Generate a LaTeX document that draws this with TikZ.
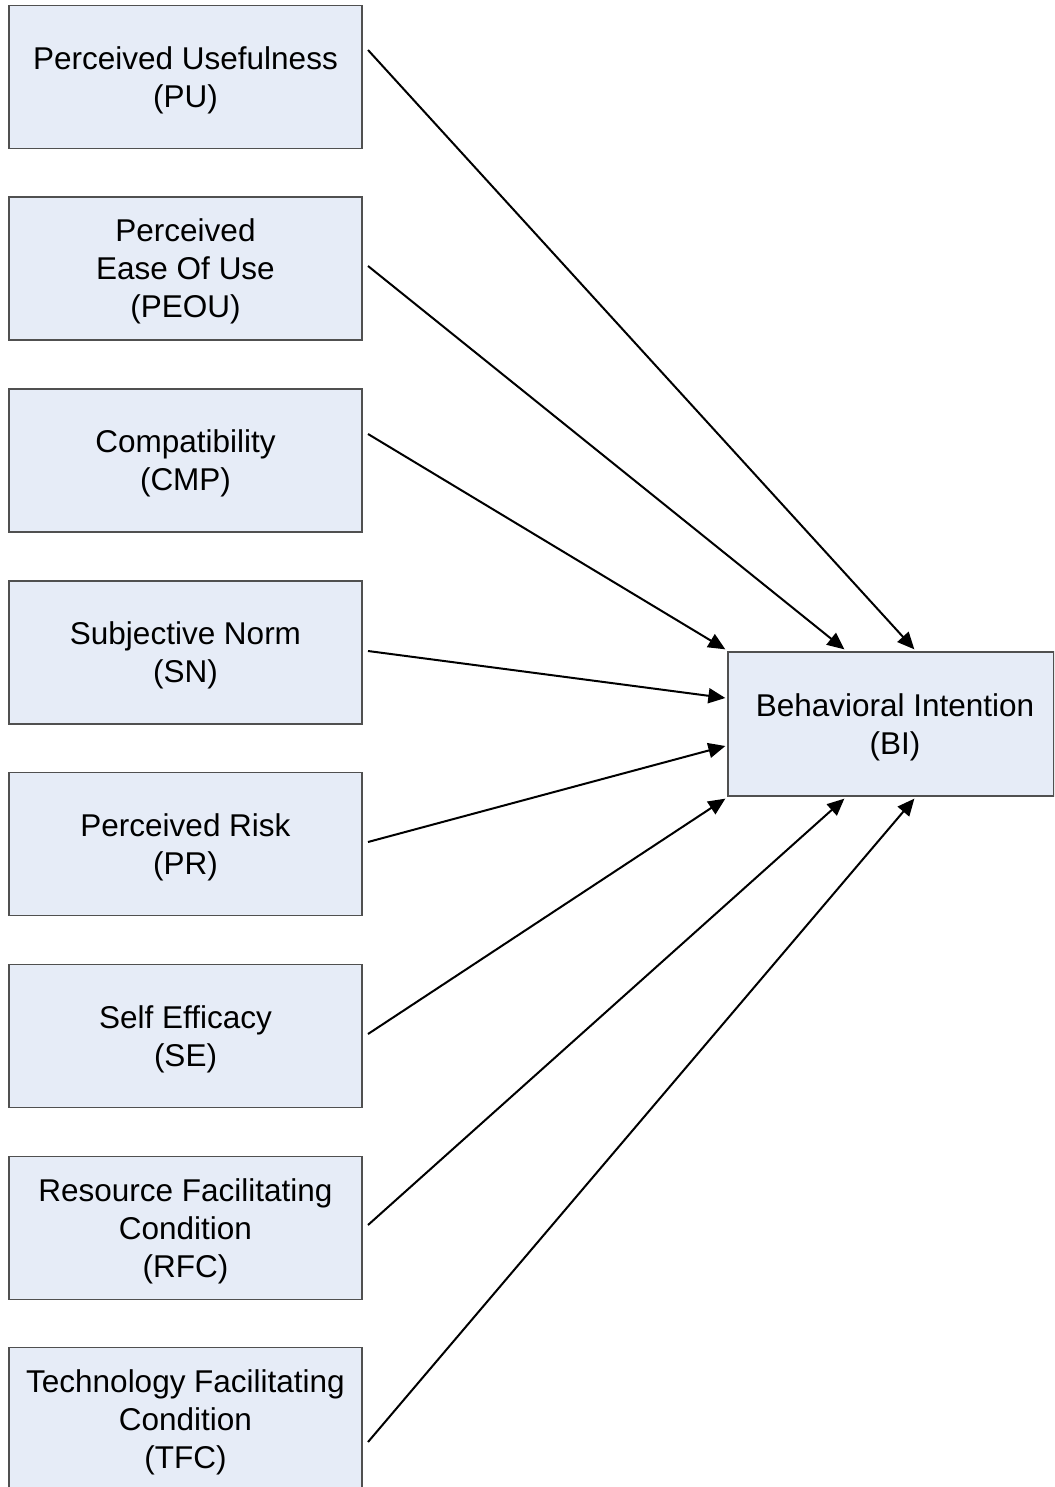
\documentclass[tikz,border=0pt]{standalone}
\usepackage{fontspec}
\setmainfont{Liberation Sans}
\usetikzlibrary{arrows.meta,calc}
\definecolor{boxfill}{HTML}{E6ECF7}
\definecolor{boxline}{HTML}{505050}
\begin{document}
\begin{tikzpicture}[x=1pt,y=-1pt,
  box/.style={draw=boxline,fill=boxfill,line width=1.3pt,minimum width=353pt,minimum height=143pt,inner sep=0pt,align=center,text depth=0pt,font=\fontsize{31.5}{38}\selectfont},
  link/.style={line width=2pt,-{Triangle[length=17pt,width=15pt]}}]
\clip (0,0) rectangle (1054,1487);
\node[box] (pu)   at (185.5,77)    {Perceived Usefulness\\(PU)};
\node[box] (peou) at (185.5,268.5) {Perceived\\Ease Of Use\\(PEOU)};
\node[box] (cmp)  at (185.5,460.5) {Compatibility\\(CMP)};
\node[box] (sn)   at (185.5,652.5) {Subjective Norm\\(SN)};
\node[box] (pr)   at (185.5,844)   {Perceived Risk\\(PR)};
\node[box] (se)   at (185.5,1036)  {Self Efficacy\\(SE)};
\node[box] (rfc)  at (185.5,1228)  {Resource Facilitating\\Condition\\(RFC)};
\node[box] (tfc)  at (185.5,1419)  {Technology Facilitating\\Condition\\(TFC)};
\node[box,minimum width=326pt,minimum height=144pt] (bi) at (891,724) {};
\node[font=\fontsize{31.5}{38}\selectfont,align=center,inner sep=0pt,text depth=0pt] (bitext) at (895,724) {Behavioral Intention\\(BI)};
% start points
\coordinate (s1) at (368,50);
\coordinate (s2) at (368,266);
\coordinate (s3) at (368,434);
\coordinate (s4) at (368,651);
\coordinate (s5) at (368,842);
\coordinate (s6) at (368,1034);
\coordinate (s7) at (368,1225);
\coordinate (s8) at (368,1442);
% end points
\coordinate (e1) at ($(bi.north west)+(187,-2)$);
\coordinate (e2) at ($(bi.north west)+(117,-2)$);
\coordinate (e3) at ($(bi.north west)+(-2,-2)$);
\coordinate (e4) at ($(bi.west)+(-2,-26)$);
\coordinate (e5) at ($(bi.west)+(-2,22)$);
\coordinate (e6) at ($(bi.south west)+(-2,2)$);
\coordinate (e7) at ($(bi.south west)+(117,2)$);
\coordinate (e8) at ($(bi.south west)+(187,2)$);
\draw[link] (s1) -- (e1);
\draw[link] (s2) -- (e2);
\draw[link] (s3) -- (e3);
\draw[link] (s4) -- (e4);
\draw[link] (s5) -- (e5);
\draw[link] (s6) -- (e6);
\draw[link] (s7) -- (e7);
\draw[link] (s8) -- (e8);
\end{tikzpicture}
\end{document}
